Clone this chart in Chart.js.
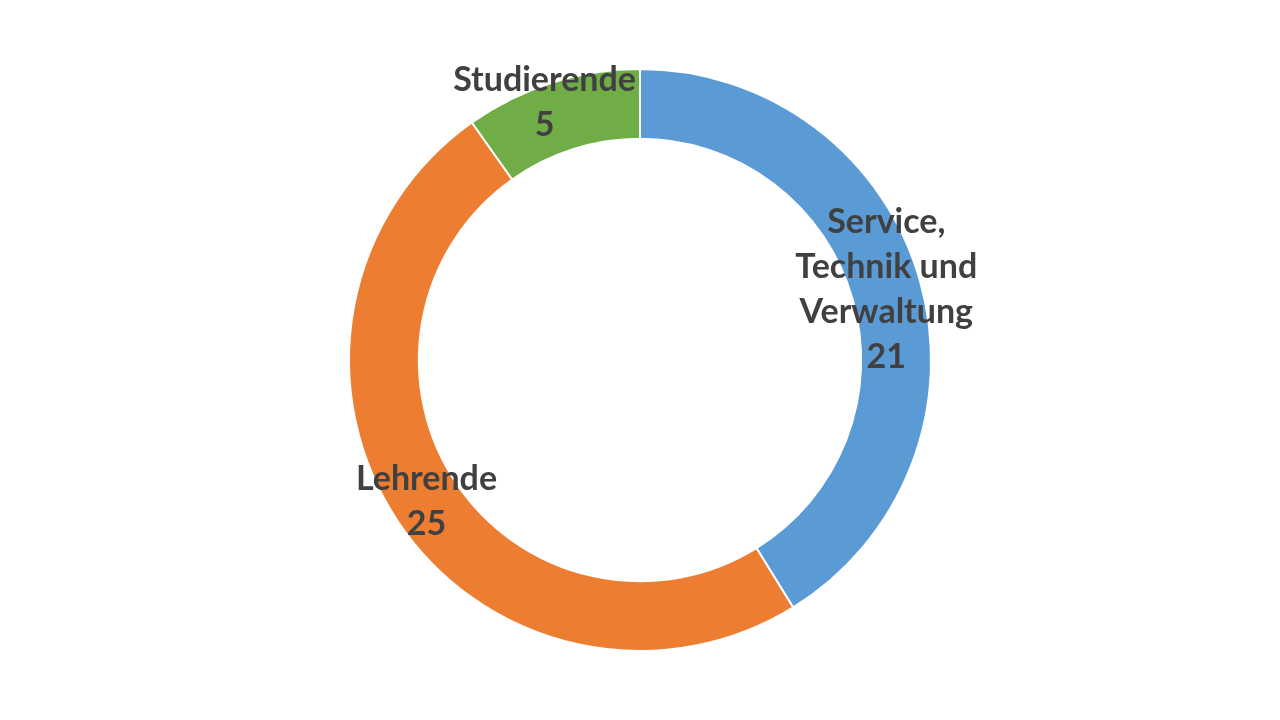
<!DOCTYPE html>
<html>
<head>
<meta charset="utf-8">
<script src="https://cdn.jsdelivr.net/npm/chart.js@4/dist/chart.umd.min.js"></script>
<style>
  html, body { margin: 0; padding: 0; background: #fff; }
  #wrap { width: 1280px; height: 720px; }
</style>
</head>
<body>
<div id="wrap"><canvas id="donut" width="1280" height="720"></canvas></div>
<script>
// Data
const categories = ['Service, Technik und Verwaltung', 'Lehrende', 'Studierende'];
const labelLines = [['Service,', 'Technik und', 'Verwaltung'], ['Lehrende'], ['Studierende']];
const values = [21, 25, 5];
const colors = ['#5B9BD5', '#ED7D31', '#70AD47'];

// Draw category + value labels on the ring, like Excel data labels
const ringLabels = {
    id: 'ringLabels',
    afterDatasetsDraw(chart) {
        const ctx = chart.ctx;
        const meta = chart.getDatasetMeta(0);
        const lineH = 45;
        ctx.save();
        ctx.font = 'bold 34px Lato, "Open Sans", sans-serif';
        ctx.fillStyle = '#404040';
        ctx.textAlign = 'center';
        ctx.textBaseline = 'middle';
        meta.data.forEach((arc, i) => {
            const mid = (arc.startAngle + arc.endAngle) / 2;
            const r = (arc.innerRadius + arc.outerRadius) / 2;
            let x = arc.x + Math.cos(mid) * r;
            let y = arc.y + Math.sin(mid) * r;
            const lines = labelLines[i].concat([String(values[i])]);
            // labels close to the top edge get pinned just below it
            const top = y - (lines.length - 1) * lineH / 2;
            if (top < chart.chartArea.top + 30) y += chart.chartArea.top + 12 - top;
            // keep the block on its slice's side of the vertical centre line
            const w = Math.max(...lines.map(t => ctx.measureText(t).width));
            if (Math.cos(mid) < 0 && x + w / 2 > arc.x - 4) x = arc.x - 4 - w / 2;
            if (Math.cos(mid) > 0 && x - w / 2 < arc.x + 4) x = arc.x + 4 + w / 2;
            lines.forEach((t, k) => {
                ctx.fillText(t, x, y + (k - (lines.length - 1) / 2) * lineH);
            });
        });
        ctx.restore();
    }
};

new Chart(document.getElementById('donut'), {
    type: 'doughnut',
    data: {
        labels: categories,
        datasets: [{
            data: values,
            backgroundColor: colors,
            borderColor: '#ffffff',
            borderWidth: 2,
            hoverOffset: 0
        }]
    },
    options: {
        responsive: false,
        animation: false,
        cutout: '76%',
        layout: { padding: { top: 68, bottom: 68 } },
        plugins: {
            legend: { display: false },
            tooltip: { enabled: false }
        }
    },
    plugins: [ringLabels]
});
</script>
</body>
</html>
